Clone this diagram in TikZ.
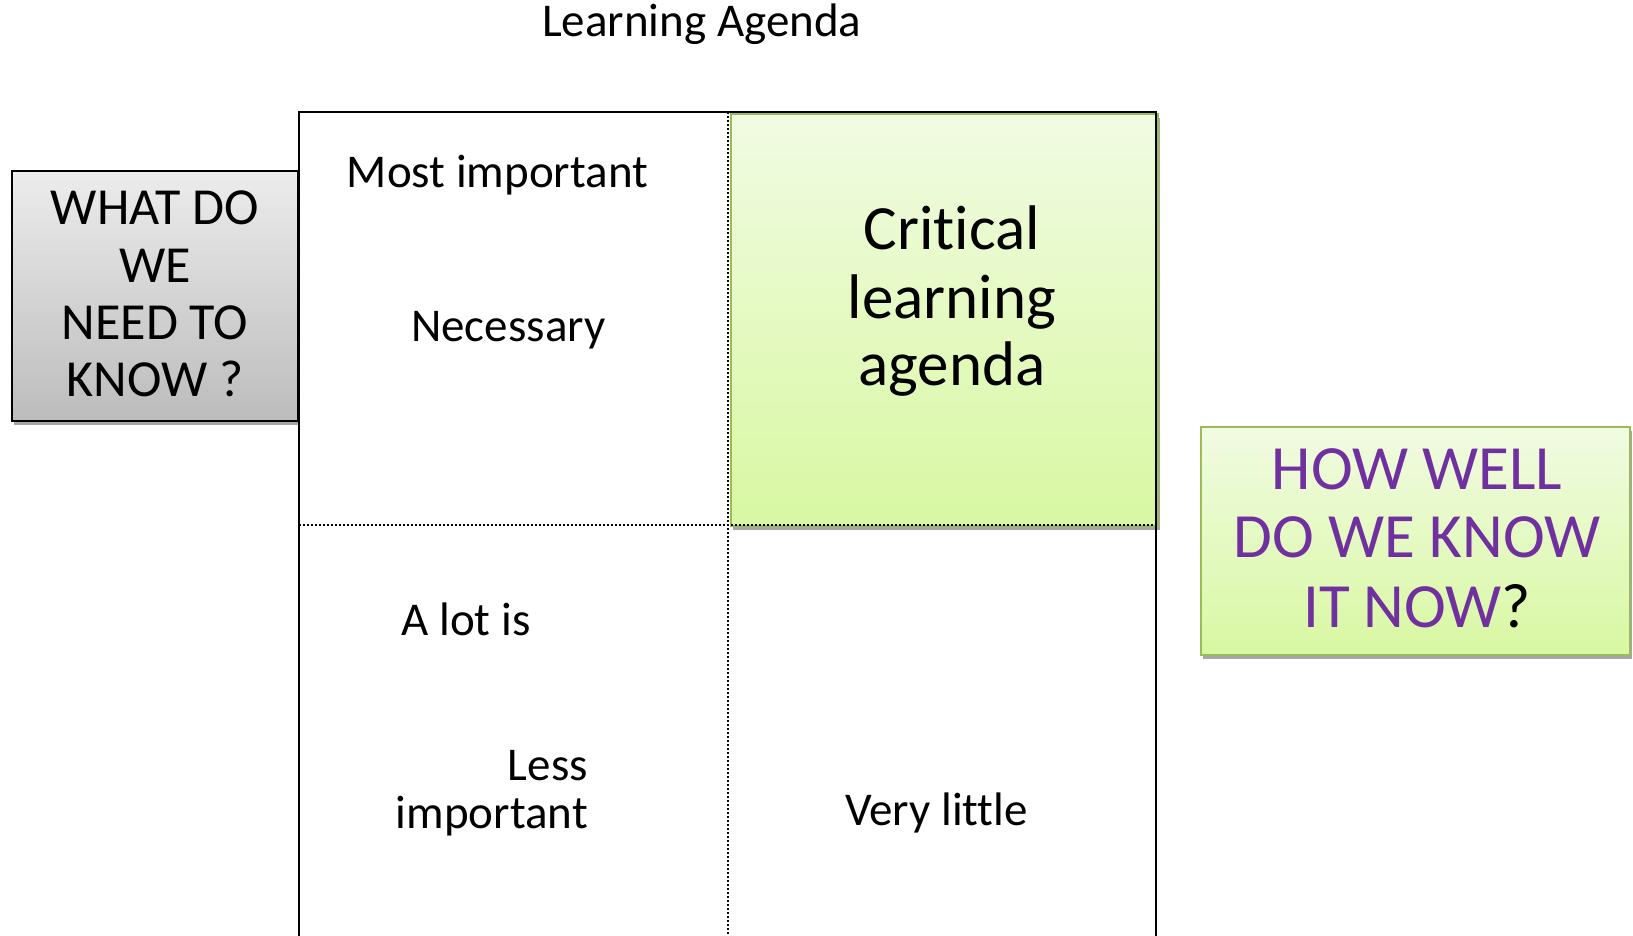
\documentclass[tikz,border=0pt]{standalone}
\usepackage{fontspec}
\setmainfont{Carlito}[Ligatures={NoCommon}]
\usetikzlibrary{shadows}
\definecolor{lgtop}{RGB}{241,251,226}
\definecolor{lgbot}{RGB}{216,248,162}
\definecolor{gborder}{RGB}{155,187,89}
\definecolor{grtop}{RGB}{236,236,236}
\definecolor{grbot}{RGB}{188,188,188}
\definecolor{purp}{RGB}{112,48,160}
\begin{document}
\begin{tikzpicture}[x=1pt,y=-1pt,
  txt/.style={inner sep=0pt, anchor=base, font=\fontsize{47}{56}\selectfont},
  txtr/.style={inner sep=0pt, anchor=base east, font=\fontsize{47}{56}\selectfont},
  big/.style={inner sep=0pt, anchor=base, font=\fontsize{63}{69}\selectfont},
  mid/.style={inner sep=0pt, anchor=base, font=\fontsize{52}{56}\selectfont},
  dotline/.style={line width=2pt, dash pattern=on 2pt off 2pt},
  frame/.style={line width=2pt},
  shade/.style={drop shadow={shadow xshift=2pt, shadow yshift=-4pt, opacity=0.35, fill=black}},
  greenbox/.style={shade, draw=gborder, line width=2pt, top color=lgtop, bottom color=lgbot, inner sep=0pt},
  greybox/.style={shade, draw=black, line width=2pt, top color=grtop, bottom color=grbot, inner sep=0pt}]

\useasboundingbox (0,0) rectangle (1633,936);

% boxes
\node[greenbox, minimum width=427pt, minimum height=412pt] (crit) at (944.4,320) {};
\node[greybox, minimum width=286pt, minimum height=250pt] (need) at (155.2,295.9) {};
\node[greenbox, minimum width=429pt, minimum height=228pt] (how) at (1415.5,541) {};

% matrix frame
\coordinate (fbl) at (299,936);
\coordinate (ftl) at (299,112);
\coordinate (ftr) at (1156,112);
\coordinate (fbr) at (1156,936);
\coordinate (vtop) at (727.5,112);
\coordinate (vbot) at (727.5,936);
\coordinate (hl) at (299,525);
\coordinate (hr) at (1156,525);
\draw[dotline] (vtop) -- (vbot);
\draw[dotline] (hl) -- (hr);
\draw[frame] (fbl) -- (ftl) -- (ftr) -- (fbr);

% texts
\node[txt] (title) at (701.7,36.7) {Learning Agenda};
\node[txt] (most) at (497.5,188) {Most important};
\node[txt] (necessary) at (508.3,341.7) {Necessary};
\node[txt] (alot) at (466,635) {A lot is};
\node[txtr] (less) at (588,780) {Less};
\node[txtr] (lessimp) at (588,828) {important};
\node[txt] (verylittle) at (936.5,825) {Very little};

\node[big] (crit1) at (952,249) {Critical};
\node[big] (crit2) at (952,318) {learning};
\node[big] (crit3) at (952,385) {agenda};

\node[mid] (need1) at (155,225) {WHAT DO};
\node[mid] (need2) at (155,282) {WE};
\node[mid] (need3) at (155,339) {NEED TO};
\node[mid] (need4) at (155,396) {KNOW ?};

\node[big, text=purp] (how1) at (1417,489) {HOW WELL};
\node[big, text=purp] (how2) at (1417,557) {DO WE KNOW};
\node[big, text=purp] (how3) at (1417,627) {IT NOW\textcolor{black}{?}};
\end{tikzpicture}
\end{document}
